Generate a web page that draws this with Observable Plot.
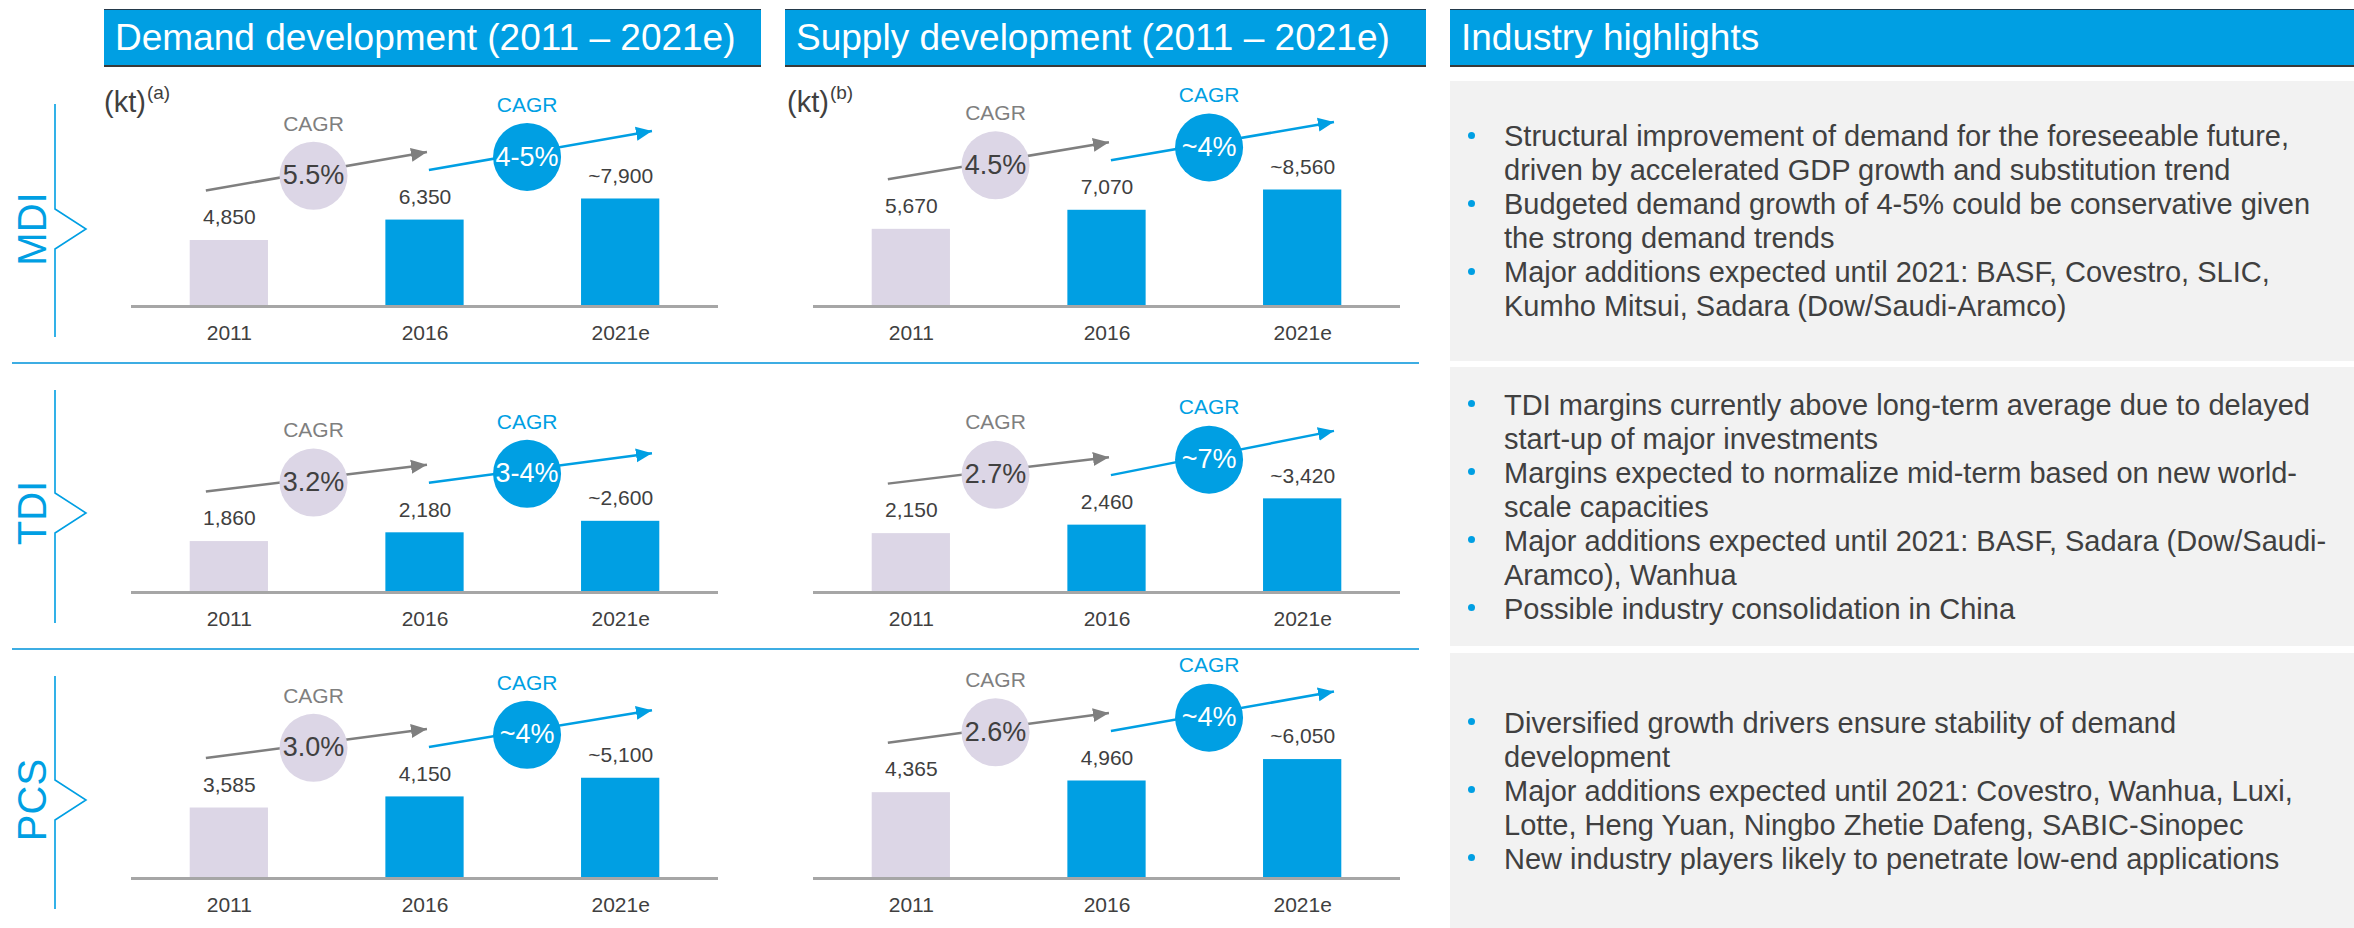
<!DOCTYPE html>
<html>
<head>
<meta charset="utf-8">
<script src="https://cdn.jsdelivr.net/npm/d3@7"></script>
<script src="https://cdn.jsdelivr.net/npm/@observablehq/plot@0.6"></script>
<style>
  body { margin: 0; background: #fff; }
  #root { position: relative; width: 2354px; height: 928px; overflow: hidden; background: #fff;
          font-family: "Liberation Sans", Arial, Helvetica, sans-serif; color: #404040; }
  .hdr { position: absolute; top: 9px; height: 58px; background: #009FE3; box-sizing: border-box;
         border-top: 1.5px solid #23394a; border-bottom: 2px solid #3a3a3a;
         display: flex; align-items: center; padding-left: 11px; color: #fff; font-size: 37px; white-space: nowrap; }
  .box { position: absolute; left: 1450px; width: 904px; background: #F2F2F2;
         display: flex; flex-direction: column; justify-content: center; }
  .item { position: relative; padding-left: 54px; font-size: 29px; line-height: 34px; white-space: nowrap; color: #404040; }
  .item::before { content: ""; position: absolute; left: 18px; top: 12.5px; width: 7px; height: 7px;
                  border-radius: 50%; background: #009FE3; }
  .sep { position: absolute; left: 12px; width: 1407px; height: 2px; background: #3DADE3; }
  .rowlab { position: absolute; font-size: 40px; color: #009FE3; line-height: 1; white-space: nowrap;
            transform: translate(-50%, -50%) rotate(-90deg); }
  .unit { position: absolute; font-size: 29px; line-height: 1; color: #404040; white-space: nowrap; }
  .unitsup { position: absolute; font-size: 19px; line-height: 1; color: #404040; white-space: nowrap; }
  .chart { position: absolute; width: 650px; height: 275px; }
</style>
</head>
<body>
<div id="root"></div>
<script>
// ---------------- data ----------------
const years = ["2011", "2016", "2021e"];
const estimated = [false, false, true];
const products = ["MDI", "TDI", "PCS"];

const demandMDI = [4850, 6350, 7900];
const demandTDI = [1860, 2180, 2600];
const demandPCS = [3585, 4150, 5100];
const supplyMDI = [5670, 7070, 8560];
const supplyTDI = [2150, 2460, 3420];
const supplyPCS = [4365, 4960, 6050];

const cagrDemand = [["5.5%", "4-5%"], ["3.2%", "3-4%"], ["3.0%", "~4%"]];
const cagrSupply = [["4.5%", "~4%"], ["2.7%", "~7%"], ["2.6%", "~4%"]];

// y-scale maximum (kt) used for each product row (shared by demand and supply)
const rowScaleMax = [16900, 8400, 11700];

const headerTitles = ["Demand development (2011 – 2021e)", "Supply development (2011 – 2021e)", "Industry highlights"];
const unitLabels = [["(kt)", "(a)"], ["(kt)", "(b)"]];

const highlightsMDI = [
  ["Structural improvement of demand for the foreseeable future,", "driven by accelerated GDP growth and substitution trend"],
  ["Budgeted demand growth of 4-5% could be conservative given", "the strong demand trends"],
  ["Major additions expected until 2021: BASF, Covestro, SLIC,", "Kumho Mitsui, Sadara (Dow/Saudi-Aramco)"]
];
const highlightsTDI = [
  ["TDI margins currently above long-term average due to delayed", "start-up of major investments"],
  ["Margins expected to normalize mid-term based on new world-", "scale capacities"],
  ["Major additions expected until 2021: BASF, Sadara (Dow/Saudi-", "Aramco), Wanhua"],
  ["Possible industry consolidation in China"]
];
const highlightsPCS = [
  ["Diversified growth drivers ensure stability of demand", "development"],
  ["Major additions expected until 2021: Covestro, Wanhua, Luxi,", "Lotte, Heng Yuan, Ningbo Zhetie Dafeng, SABIC-Sinopec"],
  ["New industry players likely to penetrate low-end applications"]
];

// ---------------- styling / layout ----------------
const BLUE = "#009FE3", LAV = "#DCD6E6", GREY = "#7F7F7F", DARK = "#404040";
const FONT = "'Liberation Sans', Arial, Helvetica, sans-serif";
const root = document.getElementById("root");

function el(tag, cls, css, text) {
  const e = document.createElement(tag);
  if (cls) e.className = cls;
  if (css) Object.assign(e.style, css);
  if (text != null) e.textContent = text;
  root.appendChild(e);
  return e;
}

// headers
const hdrPos = [[104, 657], [785, 641], [1450, 904]];
headerTitles.forEach((t, k) => el("div", "hdr", {left: hdrPos[k][0] + "px", width: hdrPos[k][1] + "px"}, t));

// units
const unitPos = [104, 787];
unitLabels.forEach((u, k) => {
  const main = el("div", "unit", {left: unitPos[k] + "px", top: "88px"}, u[0]);
  const w = main.getBoundingClientRect().width;
  el("div", "unitsup", {left: (unitPos[k] + w + 1) + "px", top: "83px"}, u[1]);
});

// separators
[362, 648].forEach(y => el("div", "sep", {top: y + "px"}));

// row labels and brackets
const rowGeom = [{top: 104, mid: 229, bottom: 337}, {top: 390, mid: 513, bottom: 623}, {top: 676, mid: 800, bottom: 909}];
products.forEach((p, r) => el("div", "rowlab", {left: "32px", top: rowGeom[r].mid + "px"}, p));
const ns = "http://www.w3.org/2000/svg";
const bsvg = document.createElementNS(ns, "svg");
bsvg.setAttribute("width", 100); bsvg.setAttribute("height", 928);
Object.assign(bsvg.style, {position: "absolute", left: "0px", top: "0px"});
rowGeom.forEach(g => {
  const path = d3.path();
  path.moveTo(55, g.top); path.lineTo(55, g.mid - 20); path.lineTo(86, g.mid);
  path.lineTo(55, g.mid + 20); path.lineTo(55, g.bottom);
  const pe = document.createElementNS(ns, "path");
  pe.setAttribute("d", path.toString()); pe.setAttribute("fill", "none");
  pe.setAttribute("stroke", BLUE); pe.setAttribute("stroke-width", 1.6);
  bsvg.appendChild(pe);
});
root.appendChild(bsvg);

// highlight boxes
const boxPos = [[81, 280], [367, 279], [653, 275]];
[highlightsMDI, highlightsTDI, highlightsPCS].forEach((items, k) => {
  const b = el("div", "box", {top: boxPos[k][0] + "px", height: boxPos[k][1] + "px"});
  items.forEach(lines => {
    const it = document.createElement("div");
    it.className = "item";
    lines.forEach((ln, j) => {
      if (j) it.appendChild(document.createElement("br"));
      it.appendChild(document.createTextNode(ln));
    });
    b.appendChild(it);
  });
});

// ---------------- charts ----------------
function arrowHead(color, context) {
  const doc = (context && context.document) || document;
  const m = doc.createElementNS(ns, "marker");
  m.setAttribute("viewBox", "-16 -8 17 16");
  m.setAttribute("markerWidth", "17");
  m.setAttribute("markerHeight", "16");
  m.setAttribute("markerUnits", "userSpaceOnUse");
  m.setAttribute("refX", "0");
  m.setAttribute("refY", "0");
  m.setAttribute("orient", "auto");
  const p = doc.createElementNS(ns, "path");
  p.setAttribute("d", "M-16,-7L0,0L-16,7Z");
  p.setAttribute("fill", color);
  p.setAttribute("stroke", "none");
  m.appendChild(p);
  return m;
}

const W = 650, H = 275, MB = 45, MT = 0, ML = 31, MR = 32;
const periodStyle = [
  {a: 0, b: 1, dx0: -0.12, dx1: 0.01, t: 0.487, arrow: GREY, circle: LAV, pct: DARK, label: GREY},
  {a: 1, b: 2, dx0: 0.02, dx1: 0.16, t: 0.44, arrow: BLUE, circle: BLUE, pct: "#fff", label: BLUE}
];

function panel(values, cagr, yMax, useMarker) {
  const p = yMax / (H - MB - MT); // data units per pixel
  const bars = values.map((v, i) => ({i, value: v, label: (estimated[i] ? "~" : "") + d3.format(",")(v)}));
  const marks = [];
  marks.push(Plot.rectY(bars.filter(d => d.i === 0), {x1: d => d.i - 0.2, x2: d => d.i + 0.2, y: "value", fill: LAV}));
  marks.push(Plot.rectY(bars.filter(d => d.i > 0), {x1: d => d.i - 0.2, x2: d => d.i + 0.2, y: "value", fill: BLUE}));
  marks.push(Plot.ruleY([0], {stroke: "#A6A6A6", strokeWidth: 3}));
  marks.push(Plot.text(bars, {x: "i", y: "value", text: "label", dy: -23, fontSize: 21, fill: DARK}));
  marks.push(Plot.axisX([0, 1, 2], {tickFormat: i => years[i], tickSize: 0, tickPadding: 19, fontSize: 21, color: DARK, label: null}));
  periodStyle.forEach((s, j) => {
    const x1 = s.a + s.dx0, x2 = s.b + s.dx1;
    const y1 = values[s.a] + 50 * p, y2 = values[s.b] + 68 * p;
    const a = {x1, x2, y1, y2, cx: x1 + s.t * (x2 - x1), cy: y1 + s.t * (y2 - y1) - 4 * p, pct: cagr[j]};
    if (useMarker) {
      marks.push(Plot.link([a], {x1: "x1", y1: "y1", x2: "x2", y2: "y2", stroke: s.arrow, strokeWidth: 2.5, markerEnd: arrowHead}));
    } else {
      marks.push(Plot.arrow([a], {x1: "x1", y1: "y1", x2: "x2", y2: "y2", stroke: s.arrow, strokeWidth: 2.5, headLength: 14}));
    }
    marks.push(Plot.dot([a], {x: "cx", y: "cy", r: 34, fill: s.circle}));
    marks.push(Plot.text([a], {x: "cx", y: "cy", text: "pct", fontSize: 27, fill: s.pct}));
    marks.push(Plot.text([a], {x: "cx", y: "cy", text: () => "CAGR", dy: -52, fontSize: 21, fill: s.label}));
  });
  return Plot.plot({
    width: W, height: H, marginTop: MT, marginBottom: MB, marginLeft: ML, marginRight: MR,
    x: {type: "linear", domain: [-0.5, 2.5], label: null},
    y: {domain: [0, yMax], axis: null, label: null},
    style: {fontFamily: FONT, background: "transparent", overflow: "visible"},
    marks
  });
}

function safePanel(values, cagr, yMax) {
  try { return panel(values, cagr, yMax, true); }
  catch (e) { return panel(values, cagr, yMax, false); }
}

const demandRows = [demandMDI, demandTDI, demandPCS];
const supplyRows = [supplyMDI, supplyTDI, supplyPCS];
const chartTops = [76, 362, 648];
const chartLefts = [100, 782];
products.forEach((prod, r) => {
  [[demandRows[r], cagrDemand[r]], [supplyRows[r], cagrSupply[r]]].forEach(([vals, cg], s) => {
    const holder = el("div", "chart", {left: chartLefts[s] + "px", top: chartTops[r] + "px"});
    holder.appendChild(safePanel(vals, cg, rowScaleMax[r]));
  });
});
</script>
</body>
</html>
